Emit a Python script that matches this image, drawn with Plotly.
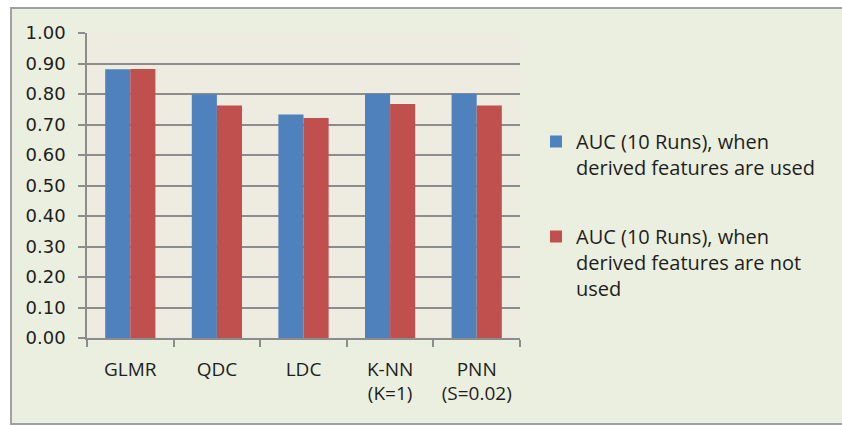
import plotly.graph_objects as go

categories = ["GLMR", "QDC", "LDC", "K-NN<br>(K=1)", "PNN<br>(S=0.02)"]
auc_with_derived = [0.881, 0.799, 0.733, 0.801, 0.801]
auc_without_derived = [0.882, 0.762, 0.721, 0.767, 0.762]
series_names = [
    "AUC (10 Runs), when<br>derived features are used",
    "AUC (10 Runs), when<br>derived features are not<br>used",
]
y_ticks = [0.0, 0.1, 0.2, 0.3, 0.4, 0.5, 0.6, 0.7, 0.8, 0.9, 1.0]

W, H = 842, 425
L, R, T, B = 87, 322, 33, 87
pw, ph = W - L - R, H - T - B


def px_x(x):
    return (x - L) / pw


def px_y(y):
    return (H - B - y) / ph


font = "Open Sans, Lato, sans-serif"
text_color = "#1E1E1E"

fig = go.Figure()
fig.add_trace(go.Bar(x=categories, y=auc_with_derived, name=series_names[0],
                     legendgroup="a",
                     marker=dict(color="#4F81BD", line=dict(width=0))))
fig.add_trace(go.Bar(x=categories, y=auc_without_derived, name=series_names[1],
                     legendgroup="b",
                     marker=dict(color="#C0504D", line=dict(width=0))))

# outer chart frame
fig.add_shape(type="rect", xref="paper", yref="paper",
              x0=px_x(11), x1=px_x(845), y0=px_y(424), y1=px_y(8),
              fillcolor="#EBEFDF", line=dict(color="#A0A0A0", width=2),
              layer="below")
# plot area fill
fig.add_shape(type="rect", xref="paper", yref="paper",
              x0=0, x1=1, y0=0, y1=1,
              fillcolor="#EEEBE0", line=dict(width=0),
              layer="below")

fig.update_layout(
    width=W, height=H,
    margin=dict(l=L, r=R, t=T, b=B),
    paper_bgcolor="white",
    plot_bgcolor="rgba(0,0,0,0)",
    barmode="group",
    bargap=0.42,
    bargroupgap=0,
    font=dict(family=font, size=17, color=text_color),
    showlegend=True,
    legend=dict(x=px_x(536), y=px_y(122), xanchor="left", yanchor="top",
                bgcolor="rgba(0,0,0,0)", font=dict(size=20, color=text_color),
                tracegroupgap=40, itemwidth=30, traceorder="grouped",
                valign="top"),
    xaxis=dict(showgrid=False, showline=True, linecolor="#8C8C8C", linewidth=1.5,
               ticks="outside", ticklen=7, tickcolor="#8C8C8C", tickwidth=1.5,
               tickson="boundaries", ticklabelstandoff=13,
               tickfont=dict(family=font, size=19, color=text_color)),
    yaxis=dict(range=[0, 1.0], tickvals=y_ticks, ticktext=[f"{v:.2f}" for v in y_ticks],
               showgrid=True, gridcolor="#8C8C8C", gridwidth=1.5,
               showline=True, linecolor="#8C8C8C", linewidth=1.5,
               ticks="outside", ticklen=7, tickcolor="#8C8C8C", tickwidth=1.5,
               ticklabelstandoff=9, zeroline=False,
               tickfont=dict(family="DejaVu Sans", size=18, color=text_color)),
)

fig.write_html("out.html")
